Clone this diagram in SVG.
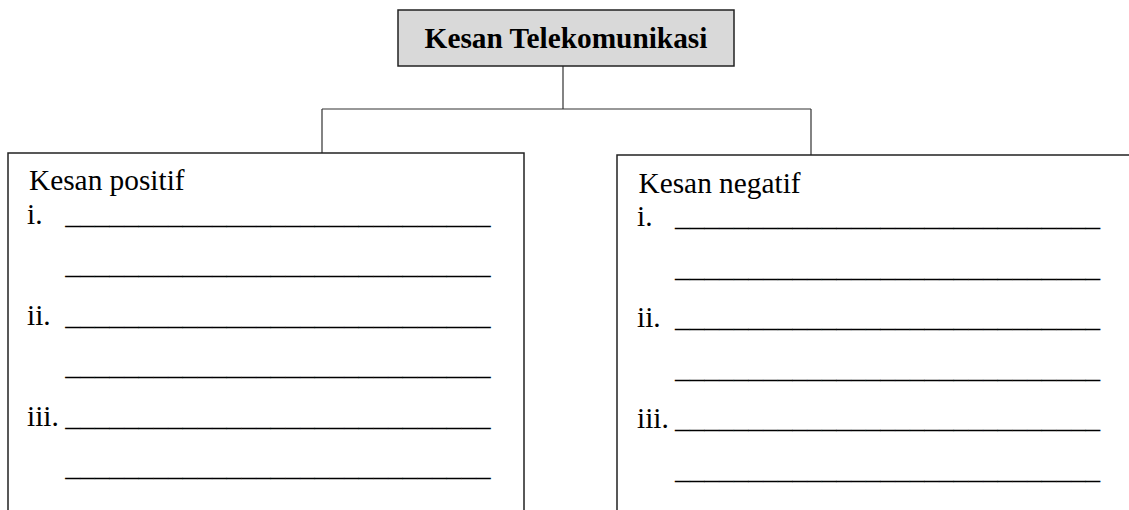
<svg xmlns="http://www.w3.org/2000/svg" width="1129" height="510" viewBox="0 0 1129 510">
  <style>
    .t { font-family: "Liberation Serif", "Times New Roman", serif; font-size: 29.33px; fill: #000; }
    .b { font-weight: bold; }
    .box { fill: #fff; stroke: #222; stroke-width: 1.5; }
    .conn { fill: none; stroke: #333; stroke-width: 1.2; }
  </style>
  <rect width="1129" height="510" fill="#fff"/>
  <g id="connectors">
    <path class="conn" d="M563 66 V109 M322 109 H811 M322 109 V153 M811 109 V155"/>
  </g>
  <g id="title">
    <rect x="398" y="10" width="336" height="56" fill="#d9d9d9" stroke="#222" stroke-width="1.5"/>
    <text class="t b" x="566" y="48" text-anchor="middle">Kesan Telekomunikasi</text>
  </g>
  <g id="positif">
    <rect class="box" x="8" y="153" width="516" height="370"/>
    <text class="t" x="29" y="190">Kesan positif</text>
    <text class="t" x="27" y="223.5">i.</text>
    <text class="t" x="65.3" y="223.5">_____________________________</text>
    <text class="t" x="65.3" y="274">_____________________________</text>
    <text class="t" x="27" y="324.5">ii.</text>
    <text class="t" x="65.3" y="324.5">_____________________________</text>
    <text class="t" x="65.3" y="375">_____________________________</text>
    <text class="t" x="27" y="425.5">iii.</text>
    <text class="t" x="65.3" y="425.5">_____________________________</text>
    <text class="t" x="65.3" y="476">_____________________________</text>
  </g>
  <g id="negatif">
    <rect class="box" x="617" y="155" width="540" height="370"/>
    <text class="t" x="638.5" y="193.3">Kesan negatif</text>
    <text class="t" x="637" y="226">i.</text>
    <text class="t" x="675" y="226">_____________________________</text>
    <text class="t" x="675" y="276.5">_____________________________</text>
    <text class="t" x="637" y="327">ii.</text>
    <text class="t" x="675" y="327">_____________________________</text>
    <text class="t" x="675" y="377.5">_____________________________</text>
    <text class="t" x="637" y="428">iii.</text>
    <text class="t" x="675" y="428">_____________________________</text>
    <text class="t" x="675" y="478.5">_____________________________</text>
  </g>
</svg>
